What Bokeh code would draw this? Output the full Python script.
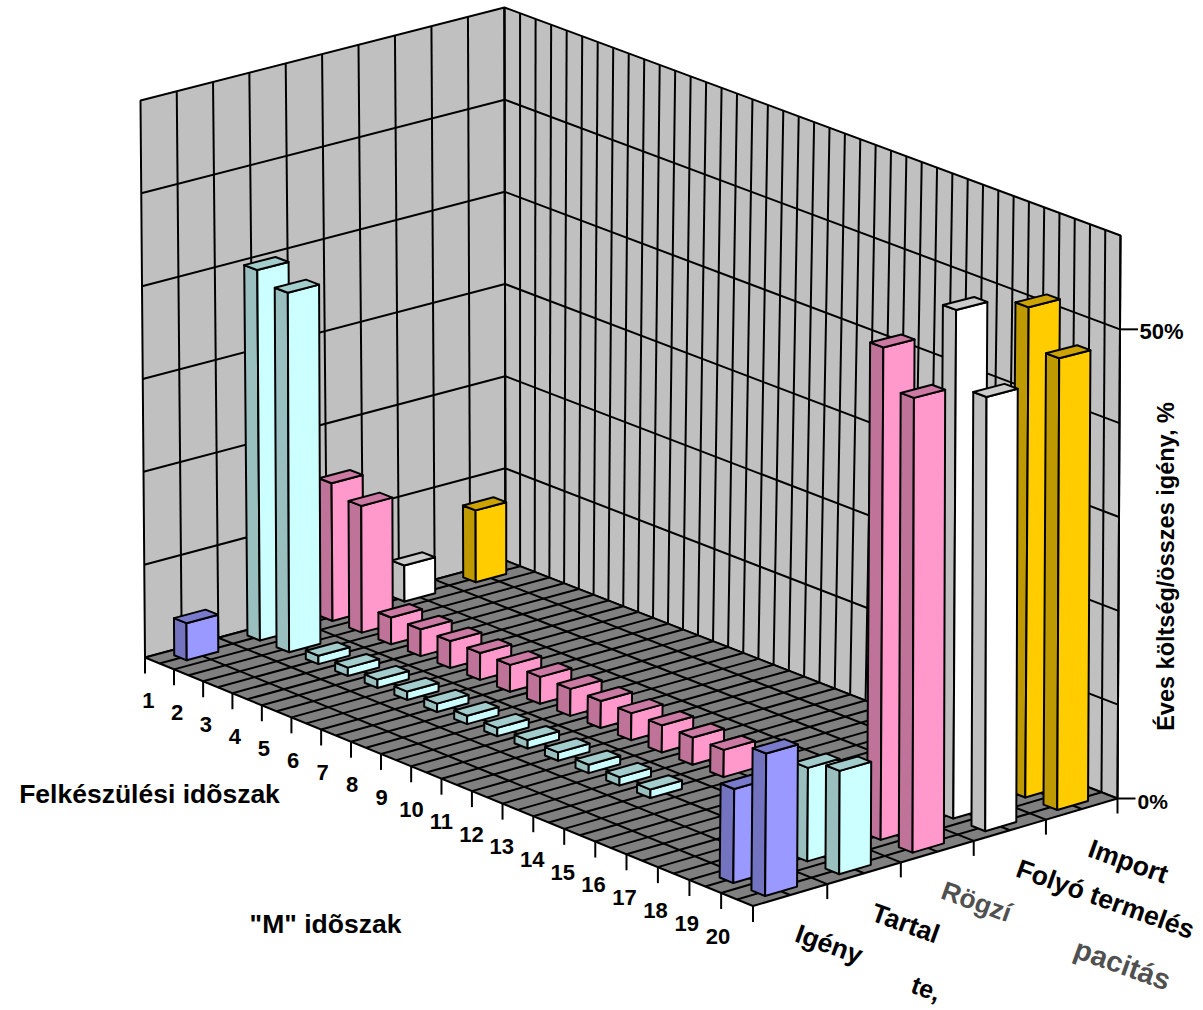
from bokeh.embed import file_html
from bokeh.resources import INLINE
from bokeh.plotting import figure
from bokeh.models import Range1d
from bokeh.core.properties import value
import numpy as np

periods = [str(i) for i in range(1, 21)]
blue = {1: 4.0, 19: 9.8, 20: 14.8}
cyan = {1: 40.0, 2: 38.8, 3: .9, 4: .9, 5: .9, 6: .9, 7: .9, 8: .9, 9: .9, 10: .9, 11: .9, 12: .9, 13: .9, 14: .9, 19: 9.8, 20: 10.8}
pink = {1: 14.9, 2: 13.7, 3: 2.9, 4: 2.9, 5: 2.9, 6: 2.9, 7: 2.9, 8: 2.9, 9: 2.9, 10: 2.9, 11: 2.9, 12: 2.9, 13: 2.9, 14: 2.9, 19: 51.9, 20: 47.8}
white = {1: 3.9, 19: 53.9, 20: 45.9}
gold = {1: 7.8, 19: 52.2, 20: 48.0}
faces = ["#9999FF", "#CCFFFF", "#FF99CC", "#FFFFFF", "#FFCC00"]
sides = ["#7373BF", "#99BFBF", "#BF7399", "#BFBFBF", "#BF9900"]
tops = ["#7A7ACC", "#A3CCCC", "#CC7AA3", "#CCCCCC", "#CCA300"]
row_values = [blue, cyan, pink, white, gold]


def homography(src, dst):
    A, b = [], []
    for (s, t), (x, y) in zip(src, dst):
        A.append([s, t, 1, 0, 0, 0, -s * x, -t * x]); b.append(x)
        A.append([0, 0, 0, s, t, 1, -s * y, -t * y]); b.append(y)
    return np.append(np.linalg.solve(np.array(A, float), np.array(b, float)), 1).reshape(3, 3)


plane = [(0, 0), (20, 0), (0, 10), (20, 10)]
H0 = homography(plane, [(144.5, 657), (752.5, 905.5), (505, 560), (1117, 798)])
H1 = homography(plane, [(140, 100), (757, 326), (504, 7), (1120, 235)])


def proj(u, v, z=0.0):
    def ap(H):
        q = H @ np.array([u, v, 1.0])
        return q[:2] / q[2]
    a, b = ap(H0), ap(H1)
    r = a + (b - a) * z / 60.0
    return float(r[0]), float(r[1])


def poly(pts):
    xy = [proj(*p) for p in pts]
    return [a for a, _ in xy], [b for _, b in xy]


p = figure(width=1203, height=1010, x_range=Range1d(0, 1203), y_range=Range1d(1010, 0),
           output_backend="svg", toolbar_location=None, min_border=0)
p.axis.visible = False
p.grid.visible = False
p.outline_line_color = None

BL = 2.0
# walls
x, y = poly([(0, 0, 0), (0, 10, 0), (0, 10, 60), (0, 0, 60)])
p.patch(x, y, fill_color="#C0C0C0", line_color="black", line_width=BL)
x, y = poly([(0, 10, 0), (20, 10, 0), (20, 10, 60), (0, 10, 60)])
p.patch(x, y, fill_color="#C0C0C0", line_color="black", line_width=BL)
xs, ys = [], []
for v in range(1, 11):
    a, b = poly([(0, v, 0), (0, v, 60)]); xs.append(a); ys.append(b)
for k in range(1, 41):
    a, b = poly([(k / 2, 10, 0), (k / 2, 10, 60)]); xs.append(a); ys.append(b)
for z in range(10, 60, 10):
    a, b = poly([(0, 0, z), (0, 10, z), (20, 10, z)]); xs.append(a); ys.append(b)
p.multi_line(xs, ys, line_color="black", line_width=BL)

# floor
x, y = poly([(0, 0), (20, 0), (20, 10), (0, 10)])
p.patch(x, y, fill_color="#808080", line_color="black", line_width=BL)
xs, ys = [], []
for k in range(1, 40):
    a, b = poly([(k / 2, 0), (k / 2, 10)]); xs.append(a); ys.append(b)
for v in range(1, 10):
    a, b = poly([(0, v), (20, v)]); xs.append(a); ys.append(b)
p.multi_line(xs, ys, line_color="black", line_width=BL)

# ticks
xs, ys = [], []
for k in range(21):
    a, b = proj(k, 0)
    xs.append([a, a]); ys.append([b, b + 16])
for v in range(0, 11, 2):
    a, b = proj(20, v)
    xs.append([a, a]); ys.append([b, b + 15])
for z in (0, 50):
    a, b = proj(20, 10, z)
    xs.append([a, a + 18]); ys.append([b, b])
p.multi_line(xs, ys, line_color="black", line_width=BL)

# bars, back to front
HU, HV = 0.215, 0.43
for r in range(4, -1, -1):
    vc = 2 * r + 1
    for per in sorted(row_values[r]):
        h = row_values[r][per]
        uc = per - 0.5
        u0, u1, v0, v1 = uc - HU, uc + HU, vc - HV, vc + HV
        x, y = poly([(u0, v0, 0), (u1, v0, 0), (u1, v0, h), (u0, v0, h)])
        p.patch(x, y, fill_color=sides[r], line_color="black", line_width=BL, line_join="round")
        x, y = poly([(u1, v0, 0), (u1, v1, 0), (u1, v1, h), (u1, v0, h)])
        p.patch(x, y, fill_color=faces[r], line_color="black", line_width=BL, line_join="round")
        x, y = poly([(u0, v0, h), (u1, v0, h), (u1, v1, h), (u0, v1, h)])
        p.patch(x, y, fill_color=tops[r], line_color="black", line_width=BL, line_join="round")

FONT = value("Liberation Sans")


def label(x, y, t, size, angle=0.0, color="black", align="center", alpha=1.0):
    p.text([x], [y], text=[t], text_font=FONT, text_font_style="bold", text_font_size=size,
           text_align=align, text_baseline="middle", angle=angle, text_color=color, text_alpha=alpha)


for k, t in enumerate(periods):
    a, b = proj(k + 0.5, 0)
    label(a - 11 - 0.42 * k, b + 37, t, "22px")

label(149, 793, "Felkészülési idõszak", "26.5px")
label(325, 923, '"M" idõszak', "26.5px")
A = -0.345
label(796, 932, "Igény", "26.5px", A, align="left")
label(872, 911, "Tartal", "26.5px", A, align="left")
label(942, 889, "Rögzí", "26.5px", A, color="#303030", align="left", alpha=0.85)
label(1017, 867, "Folyó termelés", "26.5px", A, align="left")
label(1089, 847, "Import", "26.5px", A, align="left")
label(1075, 947, "pacitás", "29px", A, color="#303030", align="left", alpha=0.85)
label(912, 983, "te,", "25px", A, align="left")
label(1139, 331, "50%", "22px", align="left")
label(1137, 801, "0%", "21px", align="left")
label(1165, 566, "Éves költség/összes igény, %", "23.5px", np.pi / 2)

open("out.html", "w").write(file_html(p, INLINE))
